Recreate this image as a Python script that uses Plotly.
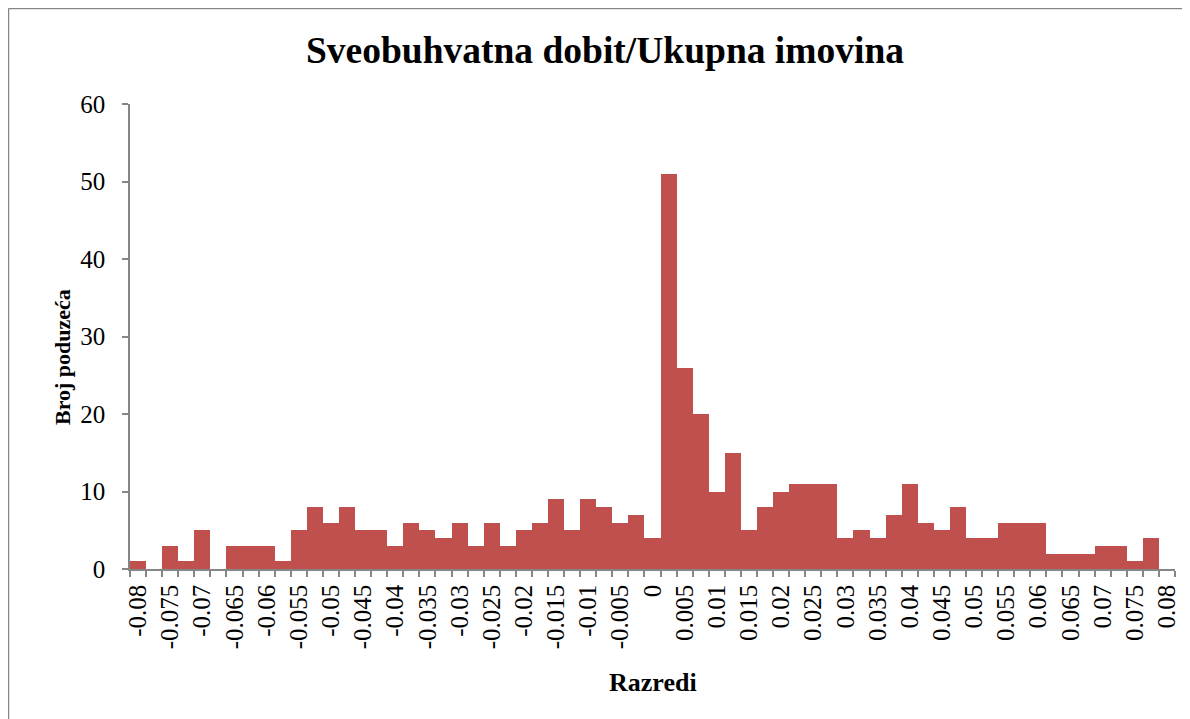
import plotly.graph_objects as go

# Bin centres (classes) and counts
categories = [round(-0.08 + 0.0025 * i, 4) for i in range(65)]
counts = [1, 0, 3, 1, 5, 0, 3, 3, 3, 1,
          5, 8, 6, 8, 5, 5, 3, 6, 5, 4,
          6, 3, 6, 3, 5, 6, 9, 5, 9, 8,
          6, 7, 4, 51, 26, 20, 10, 15, 5, 8,
          10, 11, 11, 11, 4, 5, 4, 7, 11, 6,
          5, 8, 4, 4, 6, 6, 6, 2, 2, 2,
          3, 3, 1, 4, 0]
tick_labels = ["-0.08", "-0.075", "-0.07", "-0.065", "-0.06", "-0.055", "-0.05",
               "-0.045", "-0.04", "-0.035", "-0.03", "-0.025", "-0.02", "-0.015",
               "-0.01", "-0.005", "0", "0.005", "0.01", "0.015", "0.02", "0.025",
               "0.03", "0.035", "0.04", "0.045", "0.05", "0.055", "0.06", "0.065",
               "0.07", "0.075", "0.08"]
tick_values = [float(t) for t in tick_labels]
step = 0.0025
boundaries = [round(c - step / 2, 5) for c in categories] + [round(categories[-1] + step / 2, 5)]

title_text = "Sveobuhvatna dobit/Ukupna imovina"
x_title = "Razredi"
y_title = "Broj poduzeća"

FONT = "Liberation Serif, Times New Roman, serif"
AX = "#868686"

# page offset (body margin 8px)
OFF = 8
L, R, T, B = 130 - OFF, 1190 - (1175 - OFF), 104 - OFF, 719 - (569 - OFF)
PW, PH = 1190 - L - R, 719 - T - B

fig = go.Figure(go.Bar(
    x=categories, y=counts, width=step,
    marker=dict(color="#C0504D", line=dict(width=0)),
))

bx0 = (8.5 - 130) / PW
by1 = 1 + (104 - 8.5) / PH

fig.update_layout(
    width=1190, height=719,
    margin=dict(l=L, r=R, t=T, b=B),
    paper_bgcolor="white", plot_bgcolor="white",
    bargap=0, showlegend=False,
    font=dict(family=FONT, color="black"),
    title=dict(text="<b>" + title_text + "</b>", x=(605 - OFF) / 1190, xanchor="center",
               y=1 - (50 - OFF) / 719, yanchor="middle",
               font=dict(family=FONT, size=37.5, color="black")),
    xaxis=dict(
        range=[boundaries[0], boundaries[-1]],
        tickmode="array", tickvals=tick_values, ticktext=tick_labels,
        tickangle=-90, ticks="", ticklen=0, ticklabelstandoff=4,
        tickfont=dict(family=FONT, size=25, color="black"),
        showline=True, linecolor=AX, linewidth=1.5,
        showgrid=False, zeroline=False,
        minor=dict(tickmode="array", tickvals=boundaries, ticks="outside",
                   ticklen=6, tickcolor=AX, tickwidth=1.5, showgrid=False),
    ),
    yaxis=dict(
        range=[0, 60], dtick=10, tick0=0,
        ticks="outside", ticklen=6, tickcolor=AX, tickwidth=1.5,
        ticklabelstandoff=12,
        tickfont=dict(family=FONT, size=25, color="black"),
        showline=True, linecolor=AX, linewidth=1.5,
        showgrid=False, zeroline=False,
    ),
    annotations=[
        dict(text="<b>" + y_title + "</b>", xref="paper", yref="paper",
             x=(62 - 130) / PW, y=(569 - 357) / PH, textangle=-90,
             xanchor="center", yanchor="middle", showarrow=False,
             font=dict(family=FONT, size=22, color="black")),
        dict(text="<b>" + x_title + "</b>", xref="paper", yref="paper",
             x=(653 - 130) / PW, y=(569 - 682) / PH,
             xanchor="center", yanchor="middle", showarrow=False,
             font=dict(family=FONT, size=26, color="black")),
    ],
    shapes=[
        dict(type="line", xref="paper", yref="paper",
             x0=bx0, x1=bx0, y0=-0.5, y1=by1,
             line=dict(color=AX, width=1.5), layer="below"),
        dict(type="line", xref="paper", yref="paper",
             x0=bx0, x1=1.3, y0=by1, y1=by1,
             line=dict(color=AX, width=1.5), layer="below"),
    ],
)

fig.write_html("out.html")
